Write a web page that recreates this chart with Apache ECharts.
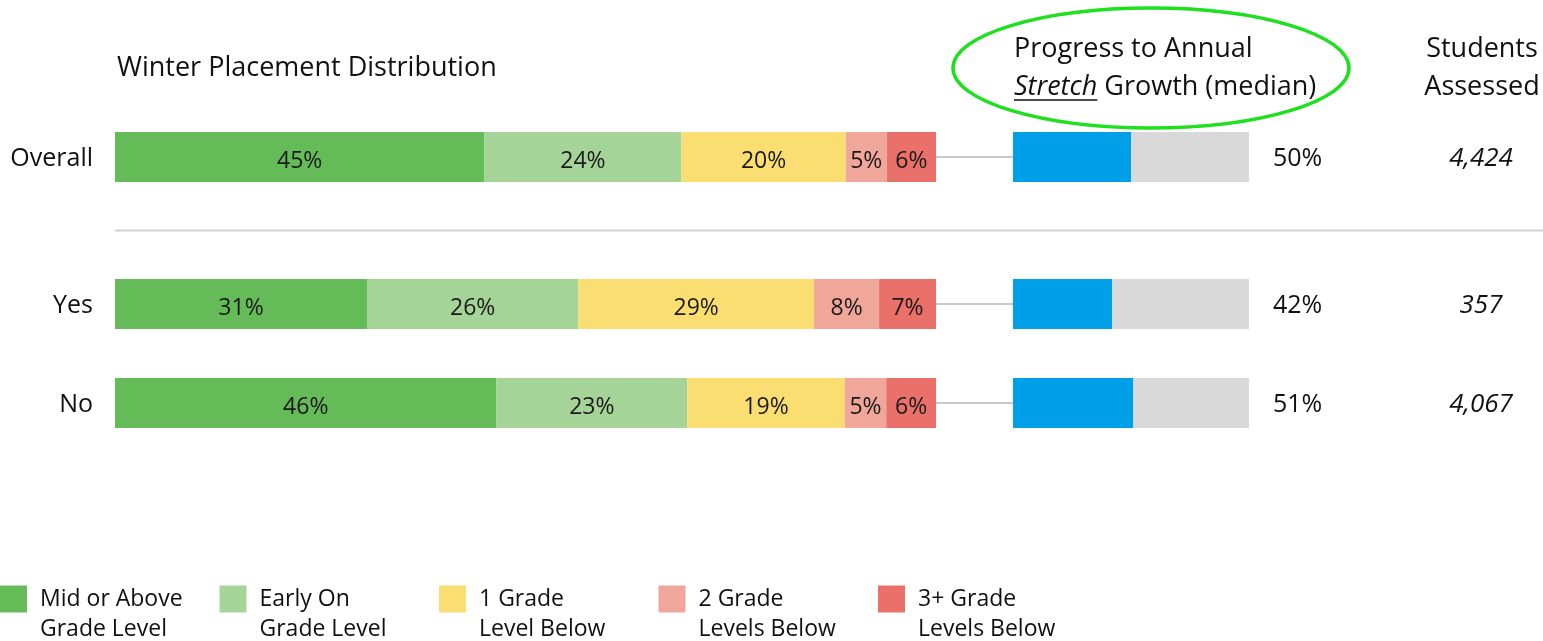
<!DOCTYPE html>
<html>
<head>
<meta charset="utf-8">
<style>
  html, body { margin: 0; padding: 0; background: #fff; }
  #chart { width: 1543px; height: 641px; }
</style>
<script src="https://cdn.jsdelivr.net/npm/echarts@6/dist/echarts.min.js"></script>
</head>
<body>
<div id="chart"></div>
<script>
// Row groups
const categories = ['Overall', 'Yes', 'No'];

// Winter placement distribution, percent per placement level (one value per row)
const midOrAbove   = [45, 31, 46];
const earlyOn      = [24, 26, 23];
const oneBelow     = [20, 29, 19];
const twoBelow     = [5, 8, 5];
const threePlus    = [6, 7, 6];

// Median progress to annual stretch growth, percent
const progress = [50, 42, 51];

// Students assessed per row
const students = ['4,424', '357', '4,067'];

// Placement levels (legend labels)
const levelNames = [
  'Mid or Above\nGrade Level',
  'Early On\nGrade Level',
  '1 Grade\nLevel Below',
  '2 Grade\nLevels Below',
  '3+ Grade\nLevels Below'
];
const levelValues = [midOrAbove, earlyOn, oneBelow, twoBelow, threePlus];
const levelColors = ['#66BB59', '#A6D498', '#FADE72', '#F1A69B', '#E9716A'];

const FONT = '"Open Sans", sans-serif';
const rowTops = [132, 279, 378];
const BAR_H = 50;

const grids = [], xAxes = [], yAxes = [], series = [];

categories.forEach((cat, i) => {
  // distribution grid
  grids.push({ left: 115, width: 821, top: rowTops[i], height: BAR_H });
  xAxes.push({ gridIndex: 2 * i, type: 'value', min: 0, max: 100, show: false });
  yAxes.push({
    gridIndex: 2 * i, type: 'category', data: [cat],
    axisLine: { show: false }, axisTick: { show: false },
    axisLabel: {
      margin: 22, formatter: v => '{t|' + v + '}',
      rich: { t: { fontFamily: FONT, fontSize: 25, color: '#111', padding: [4, 0, 0, 0] } }
    }
  });
  // progress grid
  grids.push({ left: 1013, width: 236, top: rowTops[i], height: BAR_H });
  xAxes.push({ gridIndex: 2 * i + 1, type: 'value', min: 0, max: 100, show: false });
  yAxes.push({
    gridIndex: 2 * i + 1, type: 'category', data: [cat], show: false
  });
  yAxes.push({
    gridIndex: 2 * i + 1, type: 'category', data: [students[i]], position: 'right',
    axisLine: { show: false }, axisTick: { show: false },
    axisLabel: {
      margin: 232, align: 'center', formatter: v => '{t|' + v + '}',
      rich: { t: { fontFamily: FONT, fontSize: 26, fontStyle: 'italic', color: '#111', padding: [4, 0, 0, 0] } }
    }
  });
});

// y axis index lookup: per row -> [distribution, progress, students]
const yIdx = i => [3 * i, 3 * i + 1, 3 * i + 2];

categories.forEach((cat, i) => {
  const rowTotal = levelValues.reduce((s, arr) => s + arr[i], 0);
  levelValues.forEach((vals, k) => {
    series.push({
      type: 'bar', name: levelNames[k], stack: 'dist' + i,
      xAxisIndex: 2 * i, yAxisIndex: yIdx(i)[0],
      barWidth: BAR_H, color: levelColors[k],
      data: [vals[i] / rowTotal * 100],
      label: {
        show: true, position: 'inside', fontFamily: FONT, fontSize: 23, color: '#1a1a1a',
        offset: [0, 4],
        formatter: () => vals[i] + '%'
      },
      emphasis: { disabled: true }
    });
  });
  series.push({
    type: 'bar', name: 'Progress', stack: 'prog' + i,
    xAxisIndex: 2 * i + 1, yAxisIndex: yIdx(i)[1],
    barWidth: BAR_H, color: '#00A0E9',
    data: [progress[i]], emphasis: { disabled: true }
  });
  series.push({
    type: 'bar', name: 'Remaining', stack: 'prog' + i,
    xAxisIndex: 2 * i + 1, yAxisIndex: yIdx(i)[1],
    barWidth: BAR_H, color: '#D9D9D9',
    data: [100 - progress[i]],
    label: {
      show: true, position: 'right', distance: 24, fontFamily: FONT, fontSize: 25, color: '#111',
      offset: [0, 2],
      formatter: () => progress[i] + '%'
    },
    emphasis: { disabled: true }
  });
});

const chart = echarts.init(document.getElementById('chart'), null, { renderer: 'canvas' });

chart.setOption({
  animation: false,
  backgroundColor: '#fff',
  grid: grids,
  xAxis: xAxes,
  yAxis: yAxes,
  series: series,
  legend: {
    data: levelNames,
    left: 0, top: 554, padding: 0,
    itemWidth: 27, itemHeight: 27, itemGap: 0,
    icon: 'rect', selectedMode: false,
    // leading empty line keeps the first text line level with the swatch
    formatter: name => '\n' + name,
    textStyle: {
      fontFamily: FONT, fontSize: 23, color: '#111', lineHeight: 30,
      padding: [0, 0, 0, 8], width: 179.5
    }
  }
});

// Header texts, connectors and separator
const HDR_SIZE = 27;
const hdrStyle = { fontFamily: FONT, fontSize: HDR_SIZE, fill: '#111' };

// width of the italic word, used for its underline
const ctx = document.createElement('canvas').getContext('2d');
ctx.font = 'italic ' + HDR_SIZE + 'px ' + FONT;
const stretchW = ctx.measureText('Stretch').width;

const graphics = [
  { type: 'text', left: 117, top: 55, style: Object.assign({ text: 'Winter Placement Distribution' }, hdrStyle) },
  { type: 'text', left: 1014, top: 36, style: Object.assign({ text: 'Progress to Annual' }, hdrStyle) },
  {
    type: 'text', left: 1014, top: 74,
    style: Object.assign({
      text: '{i|Stretch} Growth (median)',
      rich: { i: { fontFamily: FONT, fontSize: HDR_SIZE, fontStyle: 'italic', fill: '#111' } }
    }, hdrStyle)
  },
  { type: 'line', shape: { x1: 1014, y1: 100, x2: 1014 + stretchW, y2: 100 }, style: { stroke: '#111', lineWidth: 1.5 } },
  {
    type: 'text', x: 1482, y: 30,
    style: Object.assign({ text: 'Students\nAssessed', align: 'center', lineHeight: 38 }, hdrStyle)
  },
  {
    type: 'ellipse', shape: { cx: 1151, cy: 68, rx: 198, ry: 60 },
    style: { fill: 'none', stroke: '#1EE01E', lineWidth: 3.5 }
  }
];

categories.forEach((cat, i) => {
  const a = chart.convertToPixel({ xAxisIndex: 2 * i, yAxisIndex: yIdx(i)[0] }, [100, cat]);
  const b = chart.convertToPixel({ xAxisIndex: 2 * i + 1, yAxisIndex: yIdx(i)[1] }, [0, cat]);
  graphics.push({
    type: 'line', z: -1,
    shape: { x1: a[0], y1: a[1], x2: b[0], y2: b[1] },
    style: { stroke: '#C8C8C8', lineWidth: 2 }
  });
});

// separator between the overall row and the group rows
const sepY = (rowTops[0] + BAR_H + rowTops[1]) / 2;
graphics.push({
  type: 'line', shape: { x1: 115, y1: sepY, x2: 1543, y2: sepY },
  style: { stroke: '#D2D2D2', lineWidth: 2 }
});

chart.setOption({ graphic: graphics });
</script>
</body>
</html>
